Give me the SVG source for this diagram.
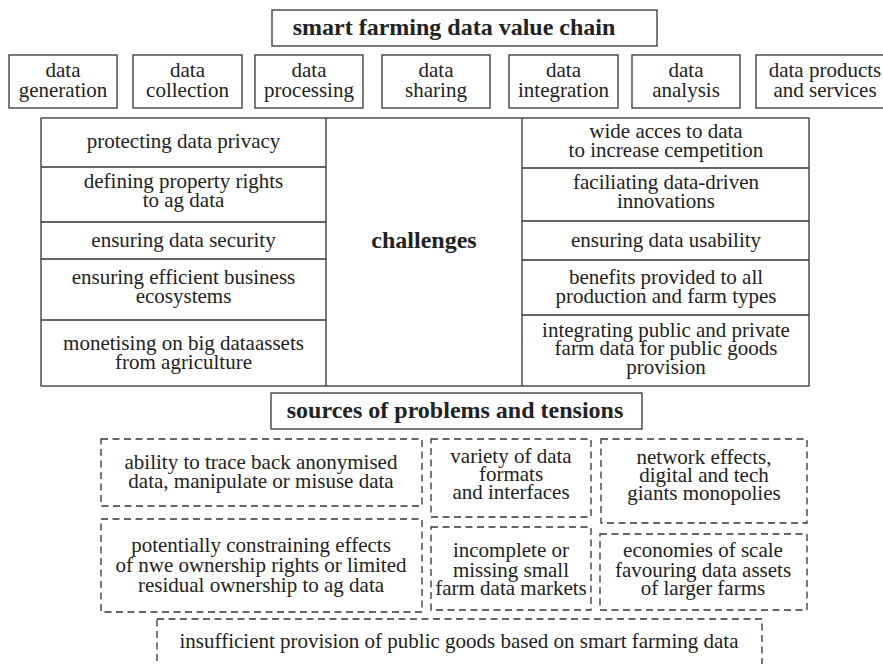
<svg xmlns="http://www.w3.org/2000/svg" width="883" height="664" viewBox="0 0 883 664">
<style>
  .box { fill: #ffffff; stroke: #333333; stroke-width: 1.3; }
  .dbox { fill: none; stroke: #333333; stroke-width: 1.3; stroke-dasharray: 7 4.5; }
  .line { stroke: #333333; stroke-width: 1.3; fill: none; }
  text { font-family: 'Liberation Serif', 'DejaVu Serif', serif; fill: #222222; text-anchor: middle; }
  .t { font-size: 21px; }
  .h { font-size: 24px; font-weight: bold; }
</style>
<rect x="0" y="0" width="883" height="664" fill="#ffffff"/>

<g id="title">
  <rect class="box" x="272" y="10" width="385" height="36"/>
  <text class="h" x="454" y="35">smart farming data value chain</text>
</g>

<g id="chain">
  <g id="n-generation">
    <rect class="box" x="9" y="55" width="108" height="53"/>
    <text class="t"><tspan x="63" y="77">data</tspan><tspan x="63" y="97">generation</tspan></text>
  </g>
  <g id="n-collection">
    <rect class="box" x="133" y="55" width="109" height="53"/>
    <text class="t"><tspan x="187.5" y="77">data</tspan><tspan x="187.5" y="97">collection</tspan></text>
  </g>
  <g id="n-processing">
    <rect class="box" x="255" y="55" width="108" height="53"/>
    <text class="t"><tspan x="309" y="77">data</tspan><tspan x="309" y="97">processing</tspan></text>
  </g>
  <g id="n-sharing">
    <rect class="box" x="382" y="55" width="108" height="53"/>
    <text class="t"><tspan x="436" y="77">data</tspan><tspan x="436" y="97">sharing</tspan></text>
  </g>
  <g id="n-integration">
    <rect class="box" x="509" y="55" width="109" height="53"/>
    <text class="t"><tspan x="563.5" y="77">data</tspan><tspan x="563.5" y="97">integration</tspan></text>
  </g>
  <g id="n-analysis">
    <rect class="box" x="632" y="55" width="108" height="53"/>
    <text class="t"><tspan x="686" y="77">data</tspan><tspan x="686" y="97">analysis</tspan></text>
  </g>
  <g id="n-products">
    <rect class="box" x="756" y="55" width="140" height="53"/>
    <text class="t"><tspan x="825" y="77">data products</tspan><tspan x="825" y="97">and services</tspan></text>
  </g>
</g>

<g id="challenges">
  <rect class="box" x="41" y="118" width="768" height="268"/>
  <line class="line" x1="326" y1="118" x2="326" y2="386"/>
  <line class="line" x1="522" y1="118" x2="522" y2="386"/>
  <g id="left-rows">
    <line class="line" x1="41" y1="167" x2="326" y2="167"/>
    <line class="line" x1="41" y1="222" x2="326" y2="222"/>
    <line class="line" x1="41" y1="259" x2="326" y2="259"/>
    <line class="line" x1="41" y1="320" x2="326" y2="320"/>
    <text class="t" x="183.5" y="148">protecting data privacy</text>
    <text class="t"><tspan x="183.5" y="188">defining property rights</tspan><tspan x="183.5" y="207">to ag data</tspan></text>
    <text class="t" x="183.5" y="247">ensuring data security</text>
    <text class="t"><tspan x="183.5" y="284">ensuring efficient business</tspan><tspan x="183.5" y="303">ecosystems</tspan></text>
    <text class="t"><tspan x="183.5" y="350">monetising on big dataassets</tspan><tspan x="183.5" y="369">from agriculture</tspan></text>
  </g>
  <text class="h" x="424" y="248">challenges</text>
  <g id="right-rows">
    <line class="line" x1="522" y1="168" x2="809" y2="168"/>
    <line class="line" x1="522" y1="221" x2="809" y2="221"/>
    <line class="line" x1="522" y1="260" x2="809" y2="260"/>
    <line class="line" x1="522" y1="315" x2="809" y2="315"/>
    <text class="t"><tspan x="666" y="138">wide acces to data</tspan><tspan x="666" y="157">to increase cempetition</tspan></text>
    <text class="t"><tspan x="666" y="189">faciliating data-driven</tspan><tspan x="666" y="208">innovations</tspan></text>
    <text class="t" x="666" y="247">ensuring data usability</text>
    <text class="t"><tspan x="666" y="284">benefits provided to all</tspan><tspan x="666" y="303">production and farm types</tspan></text>
    <text class="t"><tspan x="666" y="337">integrating public and private</tspan><tspan x="666" y="355">farm data for public goods</tspan><tspan x="666" y="374">provision</tspan></text>
  </g>
</g>

<g id="sources-title">
  <rect class="box" x="271" y="393" width="371" height="36"/>
  <text class="h" x="455" y="418">sources of problems and tensions</text>
</g>

<g id="sources">
  <g id="s-trace">
    <rect class="dbox" x="101" y="439" width="321" height="67"/>
    <text class="t"><tspan x="261" y="469">ability to trace back anonymised</tspan><tspan x="261" y="488">data, manipulate or misuse data</tspan></text>
  </g>
  <g id="s-variety">
    <rect class="dbox" x="431" y="439" width="160" height="78"/>
    <text class="t"><tspan x="511" y="463">variety of data</tspan><tspan x="511" y="481">formats</tspan><tspan x="511" y="499">and interfaces</tspan></text>
  </g>
  <g id="s-network">
    <rect class="dbox" x="601" y="439" width="206" height="84"/>
    <text class="t"><tspan x="704" y="464">network effects,</tspan><tspan x="704" y="482">digital and tech</tspan><tspan x="704" y="500">giants monopolies</tspan></text>
  </g>
  <g id="s-ownership">
    <rect class="dbox" x="101" y="519" width="321" height="93"/>
    <text class="t"><tspan x="261" y="552">potentially constraining effects</tspan><tspan x="261" y="572">of nwe ownership rights or limited</tspan><tspan x="261" y="592">residual ownership to ag data</tspan></text>
  </g>
  <g id="s-markets">
    <rect class="dbox" x="431" y="527" width="160" height="83"/>
    <text class="t"><tspan x="511" y="557">incomplete or</tspan><tspan x="511" y="577">missing small</tspan><tspan x="511" y="595">farm data markets</tspan></text>
  </g>
  <g id="s-scale">
    <rect class="dbox" x="600" y="534" width="207" height="76"/>
    <text class="t"><tspan x="703" y="557">economies of scale</tspan><tspan x="703" y="577">favouring data assets</tspan><tspan x="703" y="595">of larger farms</tspan></text>
  </g>
  <g id="s-public">
    <rect class="dbox" x="157" y="619" width="605" height="60"/>
    <text class="t" x="459" y="648">insufficient provision of public goods based on smart farming data</text>
  </g>
</g>
</svg>
